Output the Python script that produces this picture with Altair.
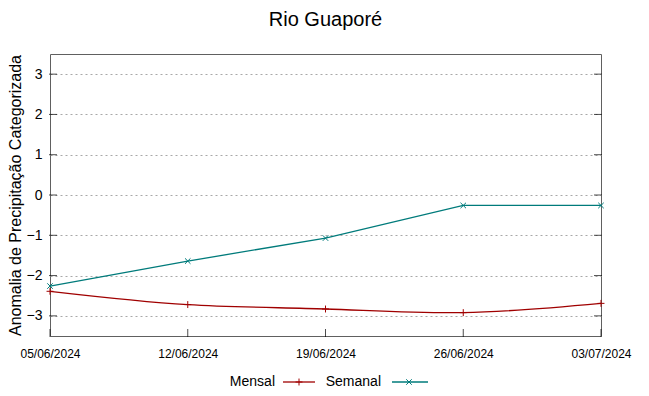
import altair as alt
import pandas as pd

dates = ["2024-06-05", "2024-06-12", "2024-06-19", "2024-06-26", "2024-07-03"]
mensal = [-2.39, -2.72, -2.83, -2.92, -2.69]
semanal = [-2.26, -1.64, -1.07, -0.26, -0.26]
y_ticks = [-3, -2, -1, 0, 1, 2, 3]
title_text = "Rio Guaporé"
y_title = "Anomalia de Precipitação Categorizada"
series_names = ["Mensal", "Semanal"]
colors = ["#a00000", "#007b7b"]

W, H = 551, 282
PLUS = "M-1,0L1,0M0,-1L0,1"
CROSS = "M-1,-1L1,1M-1,1L1,-1"

df_m = pd.DataFrame({"date": dates, "v": mensal})
df_s = pd.DataFrame({"date": dates, "v": semanal})
df_yt = pd.DataFrame({"v": y_ticks})
df_xt = pd.DataFrame({"date": dates})
one = pd.DataFrame({"a": [0]})

xscale = alt.Scale(type="utc", domain=[alt.DateTime(year=2024, month=6, date=5, utc=True),
                                       alt.DateTime(year=2024, month=7, date=3, utc=True)], nice=False)
yscale = alt.Scale(domain=[-3.5, 3.5], nice=False, zero=False)

xaxis = alt.Axis(values=[alt.DateTime(year=2024, month=int(d[5:7]), date=int(d[8:10]), utc=True) for d in dates],
                 labelExpr="utcFormat(datum.value, '%d/%m/%Y')", title=None, grid=False, ticks=False, domain=False,
                 labelFont="Liberation Sans", labelFontSize=12, labelColor="#000000",
                 labelPadding=12, labelFlush=False)
yaxis = alt.Axis(values=y_ticks, title=y_title, grid=True, gridColor="#a8a8a8", gridDash=[2, 3],
                 ticks=False, domain=False, labelFont="Liberation Sans", labelFontSize=14,
                 labelColor="#000000", labelPadding=8, titleFont="Liberation Sans", titleFontSize=16,
                 titleFontWeight="normal", titleColor="#000000", titlePadding=3)

X = alt.X("date:T", scale=xscale, axis=xaxis)
Y = alt.Y("v:Q", scale=yscale, axis=yaxis)

PS, XS = 48, 30

line_m = alt.Chart(df_m).mark_line(color=colors[0], strokeWidth=1.3, interpolate="natural").encode(x=X, y=Y)
pts_m = alt.Chart(df_m).mark_point(shape=PLUS, filled=False, color=colors[0], size=PS, strokeWidth=1, opacity=1).encode(x=X, y=Y)
line_s = alt.Chart(df_s).mark_line(color=colors[1], strokeWidth=1.3).encode(x=X, y=Y)
pts_s = alt.Chart(df_s).mark_point(shape=CROSS, filled=False, color=colors[1], size=XS, strokeWidth=1, opacity=1).encode(x=X, y=Y)

tick_l = alt.Chart(df_yt).mark_tick(color="#000000", size=8, thickness=1).encode(y=Y, x=alt.value(3))
tick_r = alt.Chart(df_yt).mark_tick(color="#000000", size=8, thickness=1).encode(y=Y, x=alt.value(W - 3))
tick_b = alt.Chart(df_xt).mark_tick(color="#000000", size=8, thickness=1).encode(x=X, y=alt.value(H - 3))

leg_y = 328
def leg_text(name, px):
    return alt.Chart(one).mark_text(align="right", baseline="middle", font="Liberation Sans",
                                    fontSize=14, color="#000000", text=name).encode(
        x=alt.value(px), y=alt.value(leg_y))

leg_line_m = alt.Chart(one).mark_rule(color=colors[0], strokeWidth=1.3).encode(
    x=alt.value(233), x2=alt.value(265), y=alt.value(leg_y))
leg_line_s = alt.Chart(one).mark_rule(color=colors[1], strokeWidth=1.3).encode(
    x=alt.value(342), x2=alt.value(378), y=alt.value(leg_y))
leg_pt_m = alt.Chart(one).mark_point(shape=PLUS, filled=False, color=colors[0], size=PS, strokeWidth=1, opacity=1).encode(
    x=alt.value(249), y=alt.value(leg_y))
leg_pt_s = alt.Chart(one).mark_point(shape=CROSS, filled=False, color=colors[1], size=XS, strokeWidth=1, opacity=1).encode(
    x=alt.value(359), y=alt.value(leg_y))

chart = alt.layer(line_m, pts_m, line_s, pts_s, tick_l, tick_r, tick_b,
                  leg_text(series_names[0], 225), leg_text(series_names[1], 331),
                  leg_line_m, leg_line_s, leg_pt_m, leg_pt_s).properties(
    width=W, height=H,
    title=alt.TitleParams(title_text, font="Liberation Sans", fontSize=20, fontWeight="normal",
                          color="#000000", anchor="middle", offset=24),
    autosize=alt.AutoSizeParams(type="none"),
    padding={"left": 42, "top": 46, "right": 40, "bottom": 52},
).configure(background="white").configure_view(stroke="#606060", strokeWidth=1)

chart.save("out.html", embed_options={"renderer": "svg", "actions": False})
